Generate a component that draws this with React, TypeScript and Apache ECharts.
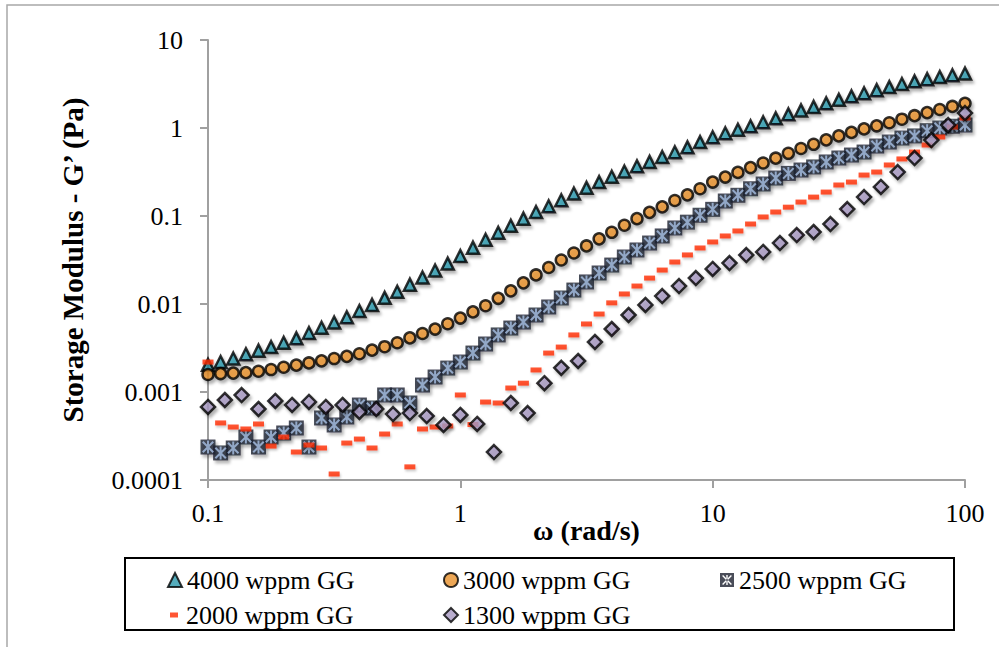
import React, { useEffect, useRef } from 'react';
import * as echarts from 'echarts';

// Angular frequency (rad/s), 20 points per decade
const freq20 = [
  0.1, 0.1122, 0.1259, 0.1413, 0.1585, 0.1778, 0.1995, 0.2239, 0.2512, 0.2818,
  0.3162, 0.3548, 0.3981, 0.4467, 0.5012, 0.5623, 0.631, 0.7079, 0.7943, 0.8913,
  1, 1.122, 1.259, 1.413, 1.585, 1.778, 1.995, 2.239, 2.512, 2.818,
  3.162, 3.548, 3.981, 4.467, 5.012, 5.623, 6.31, 7.079, 7.943, 8.913,
  10, 11.22, 12.59, 14.13, 15.85, 17.78, 19.95, 22.39, 25.12, 28.18,
  31.62, 35.48, 39.81, 44.67, 50.12, 56.23, 63.1, 70.79, 79.43, 89.13, 100,
];

// Angular frequency (rad/s), 15 points per decade (1300 wppm run)
const freq15 = [
  0.1, 0.1166, 0.1359, 0.1585, 0.1848, 0.2154, 0.2512, 0.2929, 0.3415, 0.3981,
  0.4642, 0.5412, 0.631, 0.7356, 0.8577, 1, 1.166, 1.359, 1.585, 1.848,
  2.154, 2.512, 2.929, 3.415, 3.981, 4.642, 5.412, 6.31, 7.356, 8.577,
  10, 11.66, 13.59, 15.85, 18.48, 21.54, 25.12, 29.29, 34.15, 39.81,
  46.42, 54.12, 63.1, 73.56, 85.77, 100,
];

const g4000 = [
  0.00204, 0.00219, 0.0024, 0.00269, 0.00295, 0.00324, 0.00363, 0.00407, 0.00468, 0.00537,
  0.00617, 0.00708, 0.00832, 0.00977, 0.01175, 0.0138, 0.0166, 0.02, 0.024, 0.0288,
  0.0351, 0.0437, 0.0537, 0.0646, 0.0776, 0.0933, 0.111, 0.129, 0.151, 0.18,
  0.209, 0.243, 0.279, 0.32, 0.367, 0.412, 0.468, 0.531, 0.603, 0.692,
  0.785, 0.871, 0.955, 1.047, 1.161, 1.288, 1.429, 1.585, 1.738, 1.905,
  2.089, 2.291, 2.483, 2.692, 2.917, 3.162, 3.388, 3.589, 3.802, 3.981, 4.169,
];

const g3000 = [
  0.00158, 0.00162, 0.00164, 0.00166, 0.00172, 0.0018, 0.00191, 0.00202, 0.00214, 0.00226,
  0.0024, 0.00254, 0.00272, 0.00299, 0.00327, 0.00363, 0.00412, 0.00462, 0.00519, 0.00596,
  0.00692, 0.00813, 0.00955, 0.0116, 0.0141, 0.0174, 0.0214, 0.026, 0.0316, 0.038,
  0.0457, 0.055, 0.0653, 0.0785, 0.0933, 0.11, 0.127, 0.15, 0.174, 0.204,
  0.243, 0.277, 0.313, 0.355, 0.4, 0.454, 0.516, 0.585, 0.653, 0.733,
  0.813, 0.891, 0.977, 1.059, 1.148, 1.259, 1.38, 1.496, 1.622, 1.758, 1.905,
];

const g2500 = [
  0.000237, 0.000203, 0.000231, 0.000308, 0.000237, 0.000308, 0.000342, 0.00039, 0.000237, 0.000507,
  0.000422, 0.00052, 0.000711, 0.000658, 0.000925, 0.000925, 0.00075, 0.0012, 0.00148, 0.00187,
  0.00219, 0.00277, 0.00351, 0.00445, 0.00533, 0.00624, 0.0075, 0.00925, 0.0117, 0.0144,
  0.0178, 0.0225, 0.0277, 0.0342, 0.0411, 0.0493, 0.0593, 0.0731, 0.0851, 0.102,
  0.119, 0.148, 0.172, 0.204, 0.231, 0.27, 0.305, 0.333, 0.361, 0.411,
  0.456, 0.493, 0.533, 0.624, 0.693, 0.769, 0.813, 0.933, 1.0, 1.047, 1.081,
];

const g2000 = [
  0.00219, 0.000445, 0.0004, 0.00038, 0.000433, 0.000243, 0.000308, 0.000208, 0.00025, 0.000231,
  0.000117, 0.000263, 0.000292, 0.000231, 0.000333, 0.000433, 0.000141, 0.00038, 0.0004, 0.000411,
  0.000925, 0.000427, 0.000769, 0.00075, 0.00111, 0.00126, 0.00178, 0.00277, 0.00324, 0.00445,
  0.00593, 0.00769, 0.0103, 0.013, 0.016, 0.0197, 0.0243, 0.03, 0.0361, 0.0433,
  0.0507, 0.0593, 0.0676, 0.0811, 0.0975, 0.111, 0.126, 0.144, 0.164, 0.187,
  0.225, 0.243, 0.292, 0.316, 0.38, 0.445, 0.533, 0.641, 0.791, 1.026, 1.3,
];

const g1300 = [
  0.000676, 0.000811, 0.000924, 0.000641, 0.000791, 0.000712, 0.00077, 0.000676, 0.000712, 0.000593,
  0.000641, 0.000562, 0.000577, 0.000533, 0.000422, 0.000548, 0.000433, 0.000208, 0.00075, 0.000577,
  0.00126, 0.00188, 0.00225, 0.0037, 0.0052, 0.0075, 0.00975, 0.0123, 0.016, 0.0197,
  0.025, 0.0292, 0.036, 0.039, 0.0493, 0.0608, 0.0658, 0.081, 0.12, 0.164,
  0.214, 0.316, 0.456, 0.73, 1.08, 1.48,
];

const seriesNames = ['4000 wppm GG', '3000 wppm GG', '2500 wppm GG', '2000 wppm GG', '1300 wppm GG'];
const xTickLabels = ['0.1', '1', '10', '100'];
const yTickLabels = ['0.0001', '0.001', '0.01', '0.1', '1', '10'];
const xTitle = 'ω (rad/s)';
const yTitle = 'Storage Modulus - G’ (Pa)';

const zip = (xs: number[], ys: number[]) => xs.map((x, i) => [x, ys[i]]);

const FONT = '"Liberation Serif", "Times New Roman", serif';
const shadow = {
  shadowBlur: 3,
  shadowOffsetX: 2,
  shadowOffsetY: 3,
  shadowColor: 'rgba(0,0,0,0.35)',
};

const ASTERISK =
  'path://M1.5,1.5M18.5,18.5M8.7,1.5h2.6v17h-2.6zM2.2,4.1l1.9-1.9l13.7,13.7l-1.9,1.9zM15.9,2.2l1.9,1.9l-13.7,13.7l-1.9-1.9z';
const ASTERISK_ICON =
  'path://M0,0h20v20h-20zM9,3v14h2v-14zM4.4,3l-1.4,1.4l12.6,12.6l1.4-1.4zM17,4.4l-1.4-1.4l-12.6,12.6l1.4,1.4z';
const DASH_ICON = 'path://M0,0M14,14M3,4.5h8v5h-8z';

function labelFor(list: string[], minExp: number) {
  return (v: number) => {
    const e = Math.round(Math.log10(v));
    return list[e - minExp] ?? '';
  };
}

// legend slot for each series: [left, top]
const legendSlots: [number, number][] = [
  [167, 567],
  [443, 567],
  [720, 567],
  [167, 602],
  [443, 602],
];
const legendIcons: (string | undefined)[] = [undefined, undefined, ASTERISK_ICON, DASH_ICON, undefined];

export default function App() {
  const ref = useRef<HTMLDivElement>(null);
  useEffect(() => {
    if (!ref.current) return;
    const chart = echarts.init(ref.current, undefined, { renderer: 'svg' });
    const axisGray = '#a0a0a0';
    chart.setOption({
      animation: false,
      backgroundColor: '#ffffff',
      grid: { left: 208, right: 34, top: 40, bottom: 167, containLabel: false },
      xAxis: {
        type: 'log',
        logBase: 10,
        min: 0.1,
        max: 100,
        name: xTitle,
        nameLocation: 'middle',
        nameGap: 36,
        nameMoveOverlap: false,
        nameTextStyle: { fontFamily: FONT, fontSize: 28, fontWeight: 'bold', color: '#000' },
        axisLine: { lineStyle: { color: axisGray, width: 2 } },
        axisTick: { show: true, inside: false, length: 8, lineStyle: { color: axisGray, width: 2 } },
        minorTick: { show: false },
        splitLine: { show: false },
        axisLabel: {
          margin: 20,
          fontFamily: FONT,
          fontSize: 26,
          color: '#000',
          formatter: labelFor(xTickLabels, -1),
        },
      },
      yAxis: {
        type: 'log',
        logBase: 10,
        min: 0.0001,
        max: 10,
        name: yTitle,
        nameLocation: 'middle',
        nameRotate: 90,
        nameGap: 121,
        nameTextStyle: { fontFamily: FONT, fontSize: 29, fontWeight: 'bold', color: '#000' },
        axisLine: { show: true, lineStyle: { color: axisGray, width: 2 } },
        axisTick: { show: true, inside: false, length: 8, lineStyle: { color: axisGray, width: 2 } },
        splitLine: { show: false },
        axisLabel: {
          margin: 25,
          fontFamily: FONT,
          fontSize: 26,
          color: '#000',
          formatter: labelFor(yTickLabels, -4),
        },
      },
      legend: seriesNames.map((name, i) => ({
        data: [legendIcons[i] ? { name, icon: legendIcons[i] } : { name }],
        left: legendSlots[i][0],
        top: legendSlots[i][1],
        orient: 'horizontal',
        itemWidth: 14,
        itemHeight: 14,
        itemGap: 0,
        padding: 0,
        selectedMode: false,
        textStyle: { fontFamily: FONT, fontSize: 26, color: '#000' },
      })),
      graphic: [
        {
          type: 'rect',
          silent: true,
          shape: { x: 7, y: 5, width: 1000, height: 700 },
          style: { fill: 'none', stroke: '#a8a8a8', lineWidth: 1.5 },
        },
        {
          type: 'rect',
          silent: true,
          shape: { x: 125, y: 558, width: 829, height: 72 },
          style: { fill: 'none', stroke: '#000', lineWidth: 2 },
        },
      ],
      series: [
        {
          name: seriesNames[0],
          type: 'scatter',
          data: zip(freq20, g4000),
          symbol: 'triangle',
          symbolSize: 12,
          itemStyle: { color: '#2a98ad', borderColor: '#000', borderWidth: 2.5, ...shadow },
        },
        {
          name: seriesNames[1],
          type: 'scatter',
          data: zip(freq20, g3000),
          symbol: 'circle',
          symbolSize: 11,
          itemStyle: { color: '#e8912c', borderColor: '#000', borderWidth: 2.5, ...shadow },
        },
        {
          name: seriesNames[2],
          type: 'scatter',
          data: zip(freq20, g2500),
          symbol: 'rect',
          symbolSize: 15,
          itemStyle: { color: '#1d2130', ...shadow },
        },
        {
          name: '2500 overlay',
          type: 'scatter',
          data: zip(freq20, g2500),
          symbol: ASTERISK,
          symbolSize: 13,
          silent: true,
          itemStyle: { color: '#a9c2e6' },
        },
        {
          name: seriesNames[3],
          type: 'scatter',
          data: zip(freq20, g2000),
          symbol: 'rect',
          symbolSize: [11, 5],
          itemStyle: { color: '#ff2a00', shadowBlur: 2, shadowOffsetX: 1, shadowOffsetY: 2, shadowColor: 'rgba(0,0,0,0.25)' },
        },
        {
          name: seriesNames[4],
          type: 'scatter',
          data: zip(freq15, g1300),
          symbol: 'diamond',
          symbolSize: 14,
          itemStyle: { color: '#a799c2', borderColor: '#000', borderWidth: 2.5, ...shadow },
        },
      ],
    });
    return () => chart.dispose();
  }, []);
  return (
    <div
      ref={ref}
      style={{ position: 'fixed', left: 0, top: 0, width: 999, height: 647, background: '#fff' }}
    />
  );
}
